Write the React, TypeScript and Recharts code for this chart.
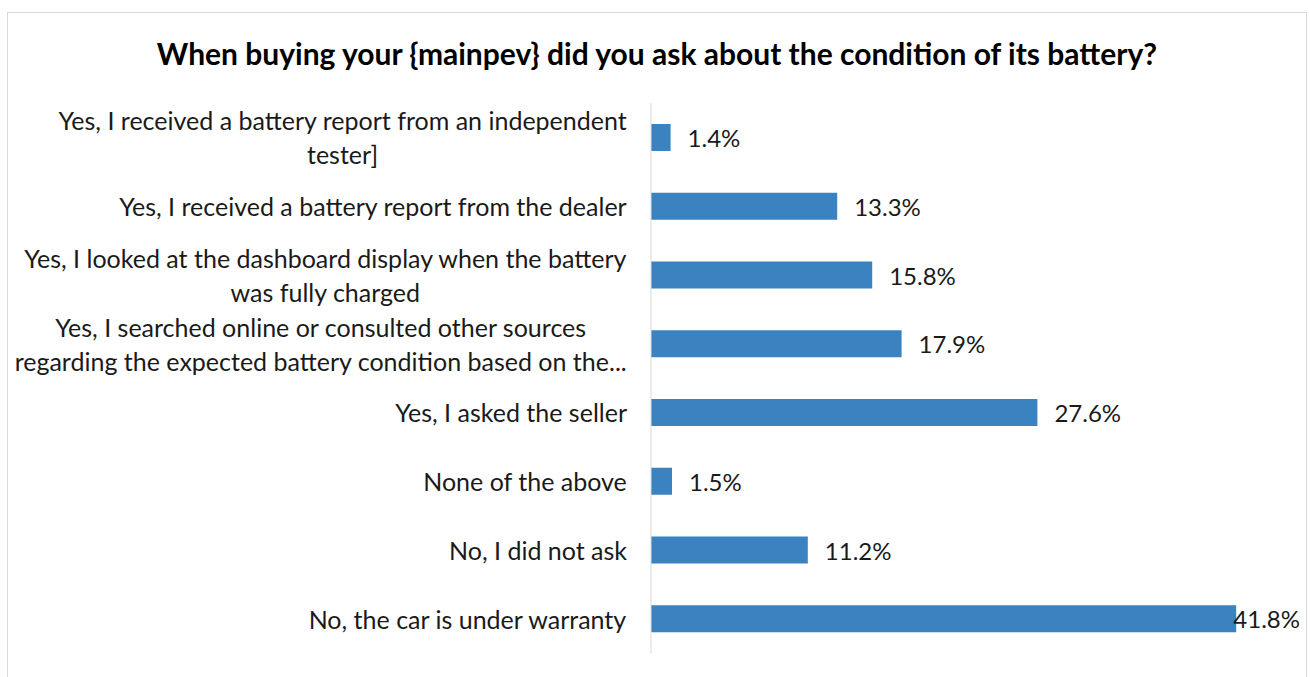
import React from 'react';
import { BarChart, Bar, XAxis, YAxis, LabelList } from 'recharts';

const categories = [
  'Yes, I received a battery report from an independent\ntester]',
  'Yes, I received a battery report from the dealer',
  'Yes, I looked at the dashboard display when the battery\nwas fully charged',
  'Yes, I searched online or consulted other sources\nregarding the expected battery condition based on the...',
  'Yes, I asked the seller',
  'None of the above',
  'No, I did not ask',
  'No, the car is under warranty',
];
const shares = [1.4, 13.3, 15.8, 17.9, 27.6, 1.5, 11.2, 41.8];

const data = categories.map((name, i) => ({ name, share: shares[i] }));

const FONT = 'Lato, "Open Sans", sans-serif';
const LABEL_SIZE = 25;
const VALUE_SIZE = 24;

let ctx: CanvasRenderingContext2D | null = null;
const measure = (s: string, size: number) => {
  if (!ctx) ctx = document.createElement('canvas').getContext('2d');
  if (!ctx) return s.length * size * 0.5;
  ctx.font = `${size}px Lato`;
  return ctx.measureText(s).width;
};

const CategoryTick = (props: any) => {
  const { x, y, payload } = props;
  const lines: string[] = String(payload.value).split('\n');
  const maxW = Math.max(...lines.map((l) => measure(l, LABEL_SIZE)));
  const right = x - 16;
  const cx = right - maxW / 2;
  const lineH = 34;
  const startY = y - ((lines.length - 1) * lineH) / 2;
  return (
    <text fontFamily={FONT} fontSize={LABEL_SIZE} fill="#1a1a1a" textAnchor="middle">
      {lines.map((l, i) => (
        <tspan key={i} x={cx} y={startY + i * lineH} dominantBaseline="central">
          {l}
        </tspan>
      ))}
    </text>
  );
};

const ValueLabel = (props: any) => {
  const { x, y, width, height, value } = props;
  const text = `${Number(value).toFixed(1)}%`;
  const w = measure(text, VALUE_SIZE);
  const tx = Math.min(x + width + 17, 1300 - w);
  return (
    <text
      x={tx}
      y={y + height / 2}
      fontFamily={FONT}
      fontSize={VALUE_SIZE}
      fill="#1a1a1a"
      dominantBaseline="central"
    >
      {text}
    </text>
  );
};

export default function App() {
  return (
    <div style={{ position: 'absolute', left: 0, top: 0, width: 1310, height: 677, background: '#fff', overflow: 'hidden' }}>
      <div
        style={{
          position: 'absolute',
          left: 7,
          top: 12,
          width: 1300,
          height: 700,
          border: '1px solid #d9d9d9',
          boxSizing: 'border-box',
        }}
      />
      <div
        style={{
          position: 'absolute',
          left: 7,
          width: 1300,
          top: 34,
          textAlign: 'center',
          fontFamily: FONT,
          fontWeight: 700,
          fontSize: 30,
          color: '#000',
          lineHeight: '38px',
        }}
      >
        When buying your {'{mainpev}'} did you ask about the condition of its battery?
      </div>
      <div style={{ position: 'absolute', left: 0, top: 0 }}>
        <BarChart
          width={1310}
          height={677}
          data={data}
          layout="vertical"
          margin={{ top: 103, right: 29, bottom: 24, left: 0 }}
          barCategoryGap={21}
        >
          <XAxis type="number" domain={[0, 45]} hide />
          <YAxis
            type="category"
            dataKey="name"
            width={651}
            axisLine={{ stroke: '#d9d9d9', strokeWidth: 1 }}
            tickLine={false}
            interval={0}
            tick={<CategoryTick />}
          />
          <Bar dataKey="share" fill="#3a83c0" barSize={27} isAnimationActive={false}>
            <LabelList dataKey="share" content={<ValueLabel />} />
          </Bar>
        </BarChart>
      </div>
    </div>
  );
}
